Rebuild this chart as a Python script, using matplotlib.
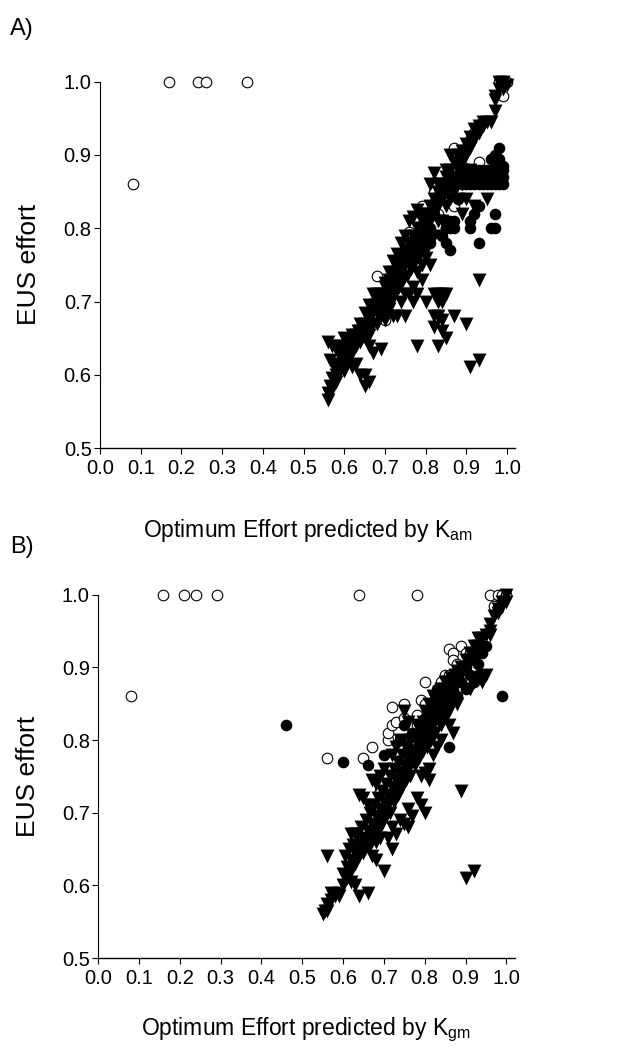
import matplotlib
matplotlib.use('Agg')
import matplotlib.pyplot as plt
import numpy as np

plt.rcParams['font.family'] = ['Liberation Sans', 'DejaVu Sans']

# ---- panel A (K_am) ----
open_a = [(0.08,0.86),(0.17,1.0),(0.24,1.0),(0.26,1.0),(0.36,1.0),
          (0.68,0.735),(0.76,0.795),(0.87,0.91),(0.79,0.83),(0.82,0.85),(0.84,0.86),
          (0.91,0.92),(0.92,0.93),(0.93,0.89),(0.87,0.83),(0.85,0.80),(0.98,1.0),
          (0.99,1.0),(1.0,1.0),(0.99,0.98),(0.83,0.82),(0.74,0.76),(0.71,0.70),
          (0.70,0.675),(0.72,0.72),(0.80,0.80),(0.88,0.88),(0.89,0.885),(0.86,0.87)]

tri_a = [(0.56,0.565),(0.56,0.575),(0.565,0.585),(0.57,0.58),(0.57,0.595),(0.58,0.59),
         (0.58,0.60),(0.59,0.605),(0.60,0.615),(0.59,0.625),(0.60,0.63),(0.61,0.62),
         (0.61,0.635),(0.62,0.63),(0.62,0.645),(0.63,0.64),(0.63,0.655),(0.64,0.645),
         (0.64,0.66),(0.65,0.65),(0.65,0.67),(0.66,0.66),(0.66,0.675),(0.67,0.67),
         (0.67,0.69),(0.68,0.685),(0.68,0.70),(0.69,0.69),(0.69,0.71),(0.70,0.70),
         (0.70,0.72),(0.71,0.71),(0.71,0.73),(0.72,0.72),(0.72,0.74),(0.73,0.73),
         (0.73,0.75),(0.74,0.74),(0.74,0.76),(0.75,0.75),(0.75,0.77),(0.76,0.76),
         (0.76,0.78),(0.77,0.77),(0.77,0.79),(0.78,0.78),(0.78,0.80),(0.79,0.79),
         (0.79,0.81),(0.80,0.80),(0.80,0.82),(0.81,0.81),(0.81,0.83),(0.82,0.82),
         (0.82,0.84),(0.83,0.83),(0.83,0.85),(0.84,0.84),(0.84,0.86),(0.85,0.85),
         (0.85,0.87),(0.86,0.86),(0.86,0.88),(0.87,0.87),(0.87,0.89),(0.88,0.88),
         (0.88,0.90),(0.89,0.89),(0.89,0.905),(0.90,0.90),(0.90,0.915),(0.91,0.91),
         (0.91,0.925),(0.92,0.92),(0.92,0.935),(0.93,0.93),(0.93,0.94),(0.94,0.94),
         (0.94,0.945),(0.95,0.945),(0.96,0.945),
         (0.565,0.62),(0.575,0.61),(0.585,0.615),(0.595,0.63),(0.605,0.64),(0.615,0.64),
         (0.625,0.65),(0.635,0.66),(0.645,0.655),(0.655,0.68),(0.665,0.68),(0.675,0.695),
         (0.685,0.695),(0.695,0.70),(0.705,0.71),(0.715,0.72),(0.725,0.73),(0.735,0.74),
         (0.745,0.75),(0.755,0.76),(0.765,0.77),(0.775,0.78),(0.785,0.79),(0.795,0.80),
         (0.805,0.81),(0.815,0.82),(0.825,0.83),(0.835,0.84),(0.845,0.85),(0.855,0.86),
         (0.705,0.69),(0.715,0.70),(0.725,0.71),(0.735,0.72),(0.745,0.73),(0.755,0.735),
         (0.765,0.745),(0.775,0.755),(0.785,0.765),(0.795,0.775),(0.805,0.785),
         (0.56,0.645),(0.57,0.64),(0.58,0.635),(0.59,0.64),(0.60,0.65),(0.62,0.655),
         (0.64,0.67),(0.65,0.685),(0.66,0.695),(0.67,0.71),(0.68,0.71),(0.70,0.725),
         (0.71,0.74),(0.72,0.755),(0.73,0.765),(0.74,0.78),(0.75,0.79),(0.76,0.81),
         (0.77,0.815),(0.78,0.825),(0.79,0.82),(0.81,0.86),(0.82,0.875),(0.83,0.86),
         (0.85,0.88),(0.86,0.90),(0.87,0.89),(0.88,0.885),(0.89,0.88),(0.90,0.905),
         (0.60,0.605),(0.62,0.61),(0.63,0.615),(0.64,0.60),(0.65,0.60),(0.65,0.585),
         (0.66,0.59),(0.66,0.64),(0.67,0.63),(0.69,0.635),(0.66,0.655),(0.68,0.67),
         (0.69,0.68),(0.70,0.675),(0.71,0.69),(0.72,0.68),(0.73,0.68),(0.74,0.70),
         (0.75,0.68),(0.75,0.71),(0.76,0.71),(0.77,0.70),(0.78,0.71),(0.77,0.72),
         (0.79,0.73),(0.78,0.74),(0.80,0.70),(0.78,0.64),(0.79,0.75),(0.80,0.76),
         (0.81,0.75),(0.80,0.77),(0.82,0.71),(0.83,0.71),(0.84,0.71),(0.85,0.71),
         (0.83,0.70),(0.84,0.70),(0.82,0.68),(0.83,0.68),(0.84,0.675),(0.82,0.665),
         (0.83,0.64),(0.84,0.66),(0.85,0.65),(0.87,0.68),(0.90,0.67),(0.91,0.61),
         (0.93,0.62),(0.93,0.73),(0.82,0.79),(0.83,0.81),(0.84,0.81),(0.85,0.83),
         (0.86,0.84),(0.88,0.84),(0.89,0.82),(0.90,0.84),(0.95,0.84),(0.92,0.83),
         (0.87,0.85),(0.88,0.86),(0.89,0.86),(0.90,0.87),(0.91,0.88),
         (0.97,0.96),(0.97,0.98),(0.98,0.99),(0.99,0.99),(0.98,1.0),(0.99,1.0),
         (0.97,0.975),(1.0,0.995)]

fill_a = [(0.89,0.86),(0.89,0.87),(0.89,0.88),(0.90,0.86),(0.90,0.87),(0.90,0.88),
          (0.91,0.86),(0.91,0.87),(0.91,0.88),(0.92,0.86),(0.92,0.87),(0.92,0.88),
          (0.93,0.86),(0.93,0.87),(0.93,0.88),(0.94,0.86),(0.94,0.87),(0.94,0.88),
          (0.95,0.86),(0.95,0.87),(0.95,0.88),(0.96,0.86),(0.96,0.87),(0.96,0.88),
          (0.97,0.86),(0.97,0.87),(0.97,0.88),(0.98,0.86),(0.98,0.87),(0.98,0.88),
          (0.99,0.86),(0.99,0.87),(0.99,0.88),(0.99,0.885),(0.97,0.89),(0.97,0.90),
          (0.98,0.91),(0.96,0.895),(0.98,0.895),
          (0.93,0.83),(0.92,0.82),(0.91,0.81),(0.91,0.80),(0.93,0.78),(0.97,0.82),
          (0.96,0.80),(0.97,0.80),(0.85,0.78),(0.86,0.77),(0.84,0.79),(0.87,0.80),
          (0.87,0.81),(0.86,0.81),(0.86,0.80),(0.85,0.80),(0.81,0.78),(0.80,0.79),
          (0.79,0.785),(0.88,0.84),(0.87,0.86),(0.88,0.87),(0.86,0.865),(0.85,0.855),
          (0.84,0.85),(0.83,0.84),(0.78,0.775),(0.77,0.77),(0.76,0.76),(0.81,0.80),
          (0.82,0.82),(0.80,0.81)]

# ---- panel B (K_gm) ----
open_b = [(0.08,0.86),(0.16,1.0),(0.21,1.0),(0.24,1.0),(0.29,1.0),(0.64,1.0),(0.78,1.0),
          (0.96,1.0),(0.98,1.0),(0.99,1.0),(1.0,1.0),(0.97,0.985),(0.98,0.98),
          (0.56,0.775),(0.65,0.775),(0.67,0.79),(0.71,0.80),(0.71,0.81),(0.72,0.82),
          (0.73,0.825),(0.72,0.845),(0.75,0.85),(0.74,0.80),(0.75,0.83),(0.78,0.835),
          (0.80,0.88),(0.79,0.855),(0.80,0.85),(0.86,0.925),(0.87,0.92),(0.89,0.93),
          (0.90,0.92),(0.91,0.92),(0.87,0.91),(0.85,0.89),(0.86,0.89),(0.84,0.88),
          (0.88,0.905),(0.69,0.73),(0.72,0.76),(0.66,0.66),(0.65,0.67),(0.75,0.77),
          (0.78,0.82),(0.77,0.80)]

tri_b = [(0.55,0.56),(0.555,0.565),(0.56,0.575),(0.56,0.565),(0.57,0.58),(0.57,0.59),
         (0.58,0.585),(0.59,0.59),(0.60,0.615),(0.61,0.61),(0.61,0.625),(0.62,0.62),
         (0.62,0.635),(0.63,0.63),(0.63,0.645),(0.64,0.64),(0.64,0.655),(0.65,0.65),
         (0.65,0.665),(0.66,0.66),(0.66,0.675),(0.67,0.67),(0.67,0.685),(0.68,0.68),
         (0.68,0.695),(0.69,0.69),(0.69,0.705),(0.70,0.70),(0.70,0.715),(0.71,0.71),
         (0.71,0.725),(0.72,0.72),(0.72,0.735),(0.73,0.73),(0.73,0.745),(0.74,0.74),
         (0.74,0.755),(0.75,0.75),(0.75,0.765),(0.76,0.76),(0.76,0.775),(0.77,0.77),
         (0.77,0.785),(0.78,0.78),(0.78,0.795),(0.79,0.79),(0.79,0.805),(0.80,0.80),
         (0.80,0.815),(0.81,0.81),(0.81,0.825),(0.82,0.82),(0.82,0.835),(0.83,0.83),
         (0.83,0.845),(0.84,0.84),(0.84,0.855),(0.85,0.85),(0.85,0.865),(0.86,0.86),
         (0.86,0.875),(0.87,0.87),(0.87,0.885),(0.88,0.88),(0.88,0.895),(0.89,0.89),
         (0.89,0.90),(0.90,0.90),(0.90,0.91),(0.91,0.91),(0.91,0.92),(0.92,0.92),
         (0.92,0.93),(0.93,0.93),(0.93,0.94),(0.94,0.94),(0.95,0.945),(0.96,0.945),
         (0.96,0.95),
         (0.605,0.64),(0.615,0.65),(0.625,0.655),(0.635,0.67),(0.645,0.68),(0.655,0.69),
         (0.665,0.70),(0.675,0.71),(0.685,0.72),(0.695,0.73),(0.705,0.74),(0.715,0.75),
         (0.725,0.76),(0.735,0.77),(0.745,0.78),(0.755,0.79),(0.765,0.80),(0.775,0.805),
         (0.785,0.815),(0.795,0.825),(0.805,0.835),(0.815,0.845),(0.825,0.855),
         (0.835,0.865),(0.845,0.87),(0.855,0.88),(0.865,0.885),(0.875,0.89),
         (0.665,0.655),(0.675,0.665),(0.685,0.675),(0.695,0.685),(0.705,0.695),
         (0.715,0.70),(0.725,0.715),(0.735,0.725),(0.745,0.735),(0.755,0.745),
         (0.765,0.75),(0.775,0.765),(0.785,0.775),(0.795,0.785),(0.805,0.79),
         (0.815,0.80),(0.825,0.81),(0.835,0.825),(0.845,0.835),(0.855,0.845),
         (0.65,0.72),(0.66,0.71),(0.64,0.725),(0.67,0.745),(0.68,0.74),(0.69,0.75),
         (0.70,0.76),(0.72,0.78),(0.73,0.79),(0.74,0.80),(0.75,0.84),(0.76,0.825),
         (0.78,0.82),(0.80,0.84),(0.81,0.85),(0.82,0.86),(0.84,0.87),(0.85,0.88),
         (0.56,0.64),(0.59,0.585),(0.60,0.60),(0.62,0.605),(0.63,0.60),(0.64,0.585),
         (0.66,0.59),(0.62,0.67),(0.63,0.67),(0.65,0.645),(0.67,0.64),(0.68,0.635),
         (0.68,0.66),(0.69,0.665),(0.70,0.62),(0.71,0.665),(0.72,0.65),(0.72,0.68),
         (0.73,0.67),(0.74,0.69),(0.75,0.685),(0.76,0.68),(0.76,0.705),(0.77,0.695),
         (0.78,0.72),(0.79,0.71),(0.80,0.70),(0.79,0.75),(0.80,0.755),(0.81,0.76),
         (0.81,0.745),(0.82,0.78),(0.83,0.79),(0.84,0.80),(0.84,0.82),(0.85,0.83),
         (0.86,0.82),(0.87,0.81),(0.86,0.84),(0.88,0.85),(0.89,0.73),(0.90,0.61),
         (0.92,0.62),(0.95,0.89),(0.94,0.88),(0.91,0.87),(0.92,0.88),
         (0.97,0.97),(0.98,0.98),(0.99,0.99),(1.0,1.0),(1.0,0.99),(0.99,0.985),
         (0.98,0.975),(0.96,0.96)]

fill_b = [(0.46,0.82),(0.60,0.77),(0.86,0.79),(0.99,0.86),(0.70,0.78),(0.66,0.765),
          (0.74,0.80),(0.75,0.82),(0.83,0.87),(0.84,0.87),(0.86,0.88),(0.88,0.89),
          (0.90,0.90),(0.92,0.91),(0.91,0.89),(0.93,0.89),(0.89,0.88),(0.87,0.87),
          (0.85,0.86),(0.82,0.85),(0.80,0.83),(0.79,0.80),(0.81,0.81),(0.77,0.81),
          (0.76,0.79),(0.94,0.92),(0.95,0.93),(0.93,0.905),(0.92,0.88),(0.90,0.87),
          (0.88,0.86),(0.86,0.85)]

panels = [('A)', open_a, tri_a, fill_a, 'am'), ('B)', open_b, tri_b, fill_b, 'gm')]
rects = [[0.159, 0.572, 0.660, 0.350], [0.156, 0.085, 0.662, 0.347]]
tag_y = [0.972, 0.478]
xlab_pad = [28, 20]

fig = plt.figure(figsize=(6.29, 10.47), dpi=100)

for i, (tag, op, tr, fl, sub) in enumerate(panels):
    ax = fig.add_axes(rects[i])
    op = np.array(op); tr = np.array(tr); fl = np.array(fl)
    ax.scatter(op[:, 0], op[:, 1], s=58, facecolors='white', edgecolors='black',
               linewidths=0.8, marker='o', clip_on=False, zorder=2)
    ax.scatter(tr[:, 0], tr[:, 1], s=100, c='black', marker='v', linewidths=0,
               clip_on=False, zorder=3)
    ax.scatter(fl[:, 0], fl[:, 1], s=70, c='black', marker='o', linewidths=0,
               clip_on=False, zorder=4)
    ax.set_xlim(0, 1.02)
    ax.set_ylim(0.5, 1.0)
    ax.set_xticks(np.arange(0, 1.01, 0.1))
    ax.set_yticks(np.arange(0.5, 1.01, 0.1))
    ax.set_xticklabels(['%.1f' % v for v in np.arange(0, 1.01, 0.1)])
    ax.set_yticklabels(['%.1f' % v for v in np.arange(0.5, 1.01, 0.1)])
    ax.spines['top'].set_visible(False)
    ax.spines['right'].set_visible(False)
    ax.spines['left'].set_linewidth(0.8)
    ax.spines['bottom'].set_linewidth(1.0)
    ax.tick_params(direction='out', length=4, width=0.8, labelsize=14.5)
    ax.tick_params(axis='y', pad=2)
    ax.tick_params(axis='x', pad=4)
    ax.set_ylabel('EUS effort', fontsize=19, labelpad=16)
    ax.set_xlabel('Optimum Effort predicted by K$_\\mathregular{%s}$' % sub,
                  fontsize=16.5, labelpad=xlab_pad[i])
    fig.text(0.016, tag_y[i], tag, fontsize=17, va='center', ha='left')

plt.savefig('out.png', dpi=100)
